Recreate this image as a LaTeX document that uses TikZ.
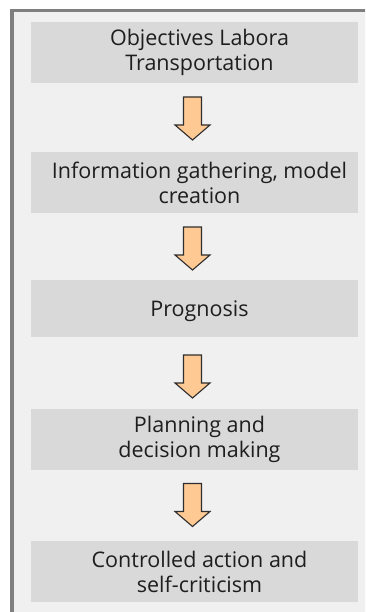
\documentclass[tikz,border=0pt]{standalone}
\usepackage{fontspec}
\setmainfont{Open Sans}
\usetikzlibrary{calc}
\begin{document}
\begin{tikzpicture}[x=1pt,y=-1pt,
  stagebox/.style={fill=boxgray,draw=none,minimum width=327pt,minimum height=61pt,
    inner sep=0pt,anchor=north},
  stagetext/.style={inner sep=0pt,align=center,text=textdark,
    font=\fontsize{21.5}{25}\selectfont},
  arrowline/.style={fill=arrowfill,draw=arrowedge,line width=1.1pt,line join=miter},
  downarrow/.pic={\draw[arrowline] (-9,-21.5) -- (9,-21.5) -- (9,6.5) -- (17.5,6.5)
      -- (0,21.5) -- (-17.5,6.5) -- (-9,6.5) -- cycle;}]
\definecolor{boxgray}{HTML}{D9D9D9}
\definecolor{panelgray}{HTML}{F0F0F0}
\definecolor{framegray}{HTML}{7F7F7F}
\definecolor{arrowfill}{HTML}{FFC993}
\definecolor{arrowedge}{HTML}{2E2E2E}
\definecolor{textdark}{HTML}{1E1E1E}
\useasboundingbox (0,0) rectangle (365,612);
\fill[white] (0,0) rectangle (365,612);
% panel frame, running off the right and bottom edges
\begin{scope}
  \clip (0,0) rectangle (365,612);
  \draw[fill=panelgray,draw=framegray,line width=3.5pt] (12,10.5) rectangle (400,650);
\end{scope}
% stage boxes
\node[stagebox] (b1) at (194.5,22)  {};
\node[stagebox] (b2) at (194.5,152) {};
\node[stagebox,minimum height=57pt] (b3) at (194.5,280) {};
\node[stagebox] (b4) at (194.5,409) {};
\node[stagebox] (b5) at (194.5,541) {};
% stage captions, set a little right of the box centres
\node[stagetext] (t1) at ($(b1.center)+(5,0)$) {Objectives Labora\\Transportation};
\node[stagetext] (t2) at ($(b2.center)+(5,0)$) {Information gathering, model\\creation};
\node[stagetext] (t3) at ($(b3.center)+(5,2)$) {Prognosis};
\node[stagetext] (t4) at ($(b4.center)+(5,0)$) {Planning and\\decision making};
\node[stagetext] (t5) at ($(b5.center)+(5,0)$) {Controlled action and\\self-criticism};
% block arrows between the stages
\coordinate (a1) at (192.5,118.5);
\coordinate (a2) at (192.5,248.5);
\coordinate (a3) at (192.5,376.5);
\coordinate (a4) at (192.5,505);
\foreach \a in {a1,a2,a3,a4} \path (\a) pic {downarrow};
\end{tikzpicture}
\end{document}
